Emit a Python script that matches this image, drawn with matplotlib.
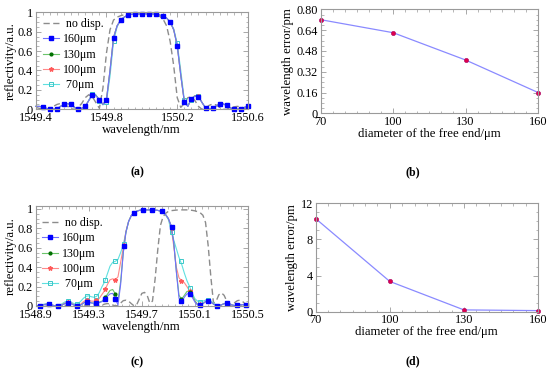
import numpy as np
import matplotlib
matplotlib.use('Agg')
import matplotlib.pyplot as plt
from matplotlib.ticker import AutoMinorLocator
from matplotlib.lines import Line2D

plt.rcParams['font.family'] = ['Liberation Serif', 'DejaVu Serif']

# ---------------- data: panel (a) ----------------
wl_a_start, wl_a_stop, wl_a_step = 1549.40, 1550.60, 0.02
r_nd_a = [0.02, 0.01, 0.0, 0.0, 0.01, 0.03, 0.05, 0.06, 0.055, 0.03,
          0.005, 0.0, 0.02, 0.06, 0.12, 0.15, 0.13, 0.07, 0.01, 0.22,
          0.58, 0.82, 0.92, 0.95, 0.965, 0.975, 0.98, 0.98, 0.98, 0.98,
          0.98, 0.98, 0.98, 0.978, 0.975, 0.96, 0.93, 0.86, 0.70, 0.45,
          0.12, 0.02, 0.06, 0.12, 0.13, 0.09, 0.03, 0.0, 0.01, 0.04,
          0.055, 0.045, 0.02, 0.0, 0.0, 0.01, 0.025, 0.03, 0.025, 0.01,
          0.005]
r160_a = [0.03, 0.03, 0.024, 0.01, 0.0, 0.0, 0.005, 0.03, 0.05, 0.058,
          0.05, 0.02, 0.0, 0.01, 0.03, 0.09, 0.145, 0.14, 0.10, 0.05,
          0.10, 0.40, 0.74, 0.86, 0.92, 0.95, 0.97, 0.978, 0.98, 0.985,
          0.985, 0.985, 0.985, 0.983, 0.98, 0.972, 0.96, 0.94, 0.90, 0.82,
          0.656, 0.35, 0.08, 0.03, 0.11, 0.135, 0.13, 0.07, 0.015, 0.0,
          0.01, 0.035, 0.055, 0.055, 0.04, 0.015, 0.0, 0.0, 0.005, 0.02,
          0.03]
r130_a = [0.03, 0.03, 0.024, 0.01, 0.0, 0.0, 0.005, 0.03, 0.05, 0.058,
          0.05, 0.02, 0.0, 0.01, 0.03, 0.09, 0.15, 0.145, 0.10, 0.05,
          0.10, 0.40, 0.74, 0.86, 0.92, 0.95, 0.97, 0.978, 0.98, 0.985,
          0.985, 0.985, 0.985, 0.983, 0.98, 0.972, 0.96, 0.94, 0.90, 0.82,
          0.656, 0.35, 0.08, 0.03, 0.11, 0.14, 0.13, 0.07, 0.015, 0.0,
          0.01, 0.035, 0.055, 0.055, 0.04, 0.015, 0.0, 0.0, 0.005, 0.02,
          0.03]
r100_a = [0.03, 0.03, 0.024, 0.01, 0.0, 0.0, 0.005, 0.03, 0.05, 0.058,
          0.05, 0.02, 0.0, 0.01, 0.03, 0.09, 0.15, 0.145, 0.095, 0.05,
          0.10, 0.40, 0.74, 0.86, 0.92, 0.95, 0.97, 0.978, 0.98, 0.985,
          0.985, 0.985, 0.985, 0.983, 0.98, 0.972, 0.96, 0.94, 0.90, 0.82,
          0.656, 0.35, 0.08, 0.03, 0.11, 0.14, 0.135, 0.07, 0.015, 0.0,
          0.01, 0.035, 0.055, 0.055, 0.04, 0.015, 0.0, 0.0, 0.005, 0.02,
          0.03]
r70_a = [0.03, 0.03, 0.024, 0.01, 0.0, 0.0, 0.005, 0.03, 0.05, 0.058,
         0.05, 0.02, 0.0, 0.01, 0.03, 0.095, 0.16, 0.15, 0.09, 0.045,
         0.08, 0.34, 0.70, 0.85, 0.92, 0.95, 0.97, 0.978, 0.98, 0.985,
         0.985, 0.985, 0.985, 0.983, 0.98, 0.972, 0.96, 0.94, 0.90, 0.83,
         0.68, 0.40, 0.10, 0.04, 0.10, 0.14, 0.135, 0.07, 0.015, 0.0,
         0.01, 0.035, 0.055, 0.055, 0.04, 0.015, 0.0, 0.0, 0.005, 0.02,
         0.03]

# ---------------- data: panel (c) ----------------
wl_c_start, wl_c_stop, wl_c_step = 1548.90, 1550.50, 0.02
r_nd_c = [0.0, 0.004, 0.006, 0.004, 0.0, 0.002, 0.006, 0.008, 0.005, 0.001,
          0.001, 0.006, 0.01, 0.008, 0.002, 0.001, 0.007, 0.013, 0.012, 0.005,
          0.001, 0.006, 0.012, 0.008, 0.002, 0.01, 0.02, 0.025, 0.02, 0.01,
          0.002, 0.005, 0.03, 0.055, 0.06, 0.05, 0.025, 0.003, 0.01, 0.07,
          0.13, 0.14, 0.11, 0.03, 0.05, 0.28, 0.58, 0.83, 0.92, 0.955,
          0.975, 0.982, 0.985, 0.988, 0.99, 0.99, 0.99, 0.99, 0.988, 0.985,
          0.98, 0.972, 0.96, 0.935, 0.86, 0.62, 0.30, 0.03, 0.05, 0.115,
          0.135, 0.11, 0.05, 0.005, 0.01, 0.035, 0.055, 0.06, 0.045, 0.02,
          0.003]
r160_c = [0.005, 0.0, 0.005, 0.012, 0.017, 0.017, 0.01, 0.003, 0.0, 0.002,
          0.012, 0.025, 0.033, 0.03, 0.015, 0.003, 0.0, 0.01, 0.03, 0.042,
          0.04, 0.03, 0.027, 0.03, 0.035, 0.045, 0.065, 0.10, 0.125, 0.13,
          0.08, 0.01, 0.22, 0.55, 0.76, 0.87, 0.93, 0.96, 0.975, 0.985,
          0.99, 0.99, 0.99, 0.99, 0.99, 0.988, 0.985, 0.978, 0.965, 0.94,
          0.90, 0.83, 0.66, 0.35, 0.08, 0.04, 0.09, 0.125, 0.125, 0.09,
          0.04, 0.01, 0.008, 0.025, 0.045, 0.05, 0.04, 0.02, 0.005, 0.002,
          0.012, 0.024, 0.028, 0.022, 0.01, 0.004, 0.006, 0.012, 0.014, 0.01,
          0.006]
r130_c = [0.005, 0.0, 0.005, 0.012, 0.017, 0.017, 0.01, 0.003, 0.0, 0.002,
          0.012, 0.025, 0.034, 0.031, 0.015, 0.003, 0.0, 0.01, 0.03, 0.045,
          0.044, 0.033, 0.03, 0.034, 0.04, 0.05, 0.08, 0.12, 0.16, 0.17,
          0.125, 0.05, 0.25, 0.55, 0.76, 0.87, 0.93, 0.96, 0.975, 0.985,
          0.99, 0.99, 0.99, 0.99, 0.99, 0.988, 0.985, 0.978, 0.965, 0.94,
          0.90, 0.83, 0.66, 0.36, 0.11, 0.07, 0.11, 0.15, 0.155, 0.115,
          0.055, 0.015, 0.008, 0.025, 0.045, 0.05, 0.04, 0.02, 0.005, 0.002,
          0.012, 0.024, 0.028, 0.022, 0.01, 0.004, 0.006, 0.012, 0.014, 0.01,
          0.006]
r100_c = [0.005, 0.0, 0.006, 0.014, 0.02, 0.02, 0.012, 0.004, 0.0, 0.004,
          0.016, 0.03, 0.04, 0.035, 0.02, 0.005, 0.005, 0.02, 0.045, 0.06,
          0.06, 0.05, 0.05, 0.06, 0.08, 0.12, 0.16, 0.22, 0.27, 0.28,
          0.27, 0.30, 0.45, 0.60, 0.77, 0.87, 0.93, 0.96, 0.975, 0.985,
          0.99, 0.99, 0.99, 0.99, 0.99, 0.988, 0.985, 0.978, 0.965, 0.94,
          0.90, 0.82, 0.62, 0.40, 0.29, 0.26, 0.24, 0.20, 0.155, 0.10,
          0.05, 0.02, 0.012, 0.025, 0.045, 0.05, 0.04, 0.022, 0.006, 0.002,
          0.012, 0.024, 0.028, 0.022, 0.01, 0.004, 0.006, 0.012, 0.014, 0.01,
          0.006]
r70_c = [0.005, 0.0, 0.008, 0.018, 0.025, 0.022, 0.012, 0.004, 0.002, 0.01,
         0.025, 0.042, 0.05, 0.045, 0.03, 0.018, 0.025, 0.05, 0.08, 0.10,
         0.105, 0.095, 0.09, 0.10, 0.14, 0.20, 0.25, 0.33, 0.41, 0.45,
         0.46, 0.48, 0.55, 0.63, 0.76, 0.87, 0.93, 0.96, 0.975, 0.985,
         0.99, 0.99, 0.99, 0.99, 0.99, 0.988, 0.985, 0.975, 0.96, 0.935,
         0.89, 0.78, 0.68, 0.59, 0.50, 0.43, 0.34, 0.26, 0.20, 0.13,
         0.075, 0.05, 0.045, 0.05, 0.06, 0.06, 0.05, 0.03, 0.012, 0.005,
         0.012, 0.025, 0.03, 0.025, 0.012, 0.005, 0.006, 0.012, 0.014, 0.01,
         0.006]
# marker samples (c)
mk_wl_c = [1548.93, 1549.00, 1549.07, 1549.145, 1549.215, 1549.285, 1549.355,
           1549.425, 1549.50, 1549.565, 1549.64, 1549.705, 1549.78, 1549.85,
           1549.925, 1549.995, 1550.065, 1550.135, 1550.20, 1550.27, 1550.345,
           1550.415, 1550.485]
mk160_c = [0.0, 0.017, 0.0, 0.034, 0.0, 0.04, 0.03, 0.07, 0.07, 0.62, 0.96, 0.99,
           0.99, 0.975, 0.81, 0.05, 0.12, 0.01, 0.05, 0.0, 0.028, 0.01, 0.01]
mk130_c = [0.0, 0.018, 0.0, 0.035, 0.002, 0.045, 0.035, 0.09, 0.12, 0.62, 0.96, 0.99,
           0.99, 0.975, 0.81, 0.07, 0.14, 0.012, 0.05, 0.0, 0.028, 0.01, 0.01]
mk100_c = [0.0, 0.02, 0.0, 0.04, 0.005, 0.06, 0.06, 0.17, 0.27, 0.63, 0.96, 0.99,
           0.99, 0.975, 0.80, 0.26, 0.15, 0.02, 0.05, 0.0, 0.028, 0.01, 0.01]
mk70_c = [0.0, 0.02, 0.0, 0.05, 0.02, 0.10, 0.10, 0.27, 0.46, 0.64, 0.96, 0.99,
          0.99, 0.975, 0.76, 0.46, 0.19, 0.045, 0.06, 0.005, 0.03, 0.01, 0.01]

# ---------------- data: panels (b), (d) ----------------
diam = [70, 100, 130, 160]
err_b = [0.72, 0.62, 0.41, 0.16]
err_d = [10.3, 3.35, 0.2, 0.12]

labels = [' no disp.', '160\u03bcm', '130\u03bcm', '100\u03bcm', ' 70\u03bcm']
xt_a = [1549.4, 1549.8, 1550.2, 1550.6]
xtl_a = ['1549.4', '1549.8', '1550.2', '1550.6']
xt_c = [1548.9, 1549.3, 1549.7, 1550.1, 1550.5]
xtl_c = ['1548.9', '1549.3', '1549.7', '1550.1', '1550.5']
yt_r = [0, 0.2, 0.4, 0.6, 0.8, 1.0]
ytl_r = ['0', '0.2', '0.4', '0.6', '0.8', '1']
yt_b = [0, 0.16, 0.32, 0.48, 0.64, 0.80]
ytl_b = ['0', '0.16', '0.32', '0.48', '0.64', '0.80']
yt_d = [0, 4, 8, 12]
ytl_d = ['0', '4', '8', '12']
xt_bd = [70, 100, 130, 160]

# ---------------- styles ----------------
FRAME = '#9a9a9a'
ND = dict(color='#8c8c8c', lw=1.0, dashes=(4.5, 2.5))
ST = {
    '160': dict(color='#7070ff', marker='s', ms=2.7, mfc='#0000ff', mec='#0000ff', lw=0.8),
    '130': dict(color='#6cc46c', marker='o', ms=2.0, mfc='#007000', mec='#007000', lw=0.8),
    '100': dict(color='#ff8a8a', marker='*', ms=3.2, mfc='#ff5a5a', mec='#ff5a5a', lw=0.8),
    '70': dict(color='#5fe0e0', marker='s', ms=2.6, mfc='none', mec='#3cc8c8', mew=0.7, lw=0.8),
}

W, H = 550, 379
fig = plt.figure(figsize=(5.5, 3.79), dpi=100)


def add_ax(l, r, t, b):
    return fig.add_axes([l / W, 1 - b / H, (r - l) / W, (b - t) / H])


def style(ax, nxminor, nyminor):
    for s in ax.spines.values():
        s.set_color(FRAME)
        s.set_linewidth(0.8)
    ax.tick_params(which='both', direction='in', top=True, right=True,
                   color=FRAME, labelsize=8.8, pad=2)
    ax.tick_params(which='major', length=3.5, width=0.6)
    ax.tick_params(which='minor', length=1.8, width=0.5)
    ax.xaxis.set_minor_locator(AutoMinorLocator(nxminor))
    ax.yaxis.set_minor_locator(AutoMinorLocator(nyminor))


def legend(ax, x, y):
    hs = [Line2D([], [], **ND)]
    for k in ['160', '130', '100', '70']:
        hs.append(Line2D([], [], **ST[k]))
    ax.legend(hs, labels, loc='upper left', bbox_to_anchor=(x, y), frameon=False,
              fontsize=8.6, handlelength=1.35, handletextpad=0.35, labelspacing=0.28,
              borderpad=0, borderaxespad=0, numpoints=1)


# ---- (a)
axa = add_ax(35.7, 248, 12.3, 109.3)
wl_a = np.round(np.arange(wl_a_start, wl_a_stop + wl_a_step / 2, wl_a_step), 3)
axa.plot(wl_a, r_nd_a, **ND)
me = slice(2, None, 2)
for k, r in [('70', r70_a), ('100', r100_a), ('130', r130_a), ('160', r160_a)]:
    axa.plot(wl_a, r, markevery=me, clip_on=False, **ST[k])
axa.set_xlim(1549.4, 1550.6)
axa.set_ylim(0, 1.0)
axa.set_xticks(xt_a, xtl_a)
axa.set_yticks(yt_r, ytl_r)
style(axa, 10, 4)
axa.set_xlabel('wavelength/nm', fontsize=9.2, labelpad=0)
axa.set_ylabel('reflectivity/a.u.', fontsize=9.2, labelpad=1)
legend(axa, 0.034, 0.94)

# ---- (c)
axc = add_ax(35.7, 248, 206, 306)
wl_c = np.round(np.arange(wl_c_start, wl_c_stop + wl_c_step / 2, wl_c_step), 3)
axc.plot(wl_c, r_nd_c, **ND)
for k, r in [('70', r70_c), ('100', r100_c), ('130', r130_c), ('160', r160_c)]:
    st = dict(ST[k])
    axc.plot(wl_c, r, color=st['color'], lw=st['lw'])
for k, m in [('70', mk70_c), ('100', mk100_c), ('130', mk130_c), ('160', mk160_c)]:
    st = dict(ST[k])
    st.pop('lw')
    st.pop('color')
    axc.plot(mk_wl_c, m, ls='none', clip_on=False, **st)
axc.set_xlim(1548.9, 1550.5)
axc.set_ylim(0, 1.03)
axc.set_xticks(xt_c, xtl_c)
axc.set_yticks(yt_r, ytl_r)
style(axc, 8, 4)
axc.set_xlabel('wavelength/nm', fontsize=9.2, labelpad=0)
axc.set_ylabel('reflectivity/a.u.', fontsize=9.2, labelpad=1)
legend(axc, 0.028, 0.89)

# ---- (b)
axb = add_ax(320.7, 538, 9.3, 113.3)
axb.plot(diam, err_b, color='#8a8aff', lw=0.9, marker='o', ms=3.0,
         mfc='#e0004a', mec='#b0106a', mew=0.5, clip_on=False)
axb.set_xlim(70, 160)
axb.set_ylim(0, 0.8)
axb.set_xticks(xt_bd, [str(v) for v in xt_bd])
axb.set_yticks(yt_b, ytl_b)
style(axb, 6, 4)
axb.set_xlabel('diameter of the free end/\u03bcm', fontsize=9.2, labelpad=0)
axb.set_ylabel('wavelength error/pm', fontsize=9.2, labelpad=2)

# ---- (d)
axd = add_ax(315.7, 538, 203.3, 311.7)
axd.plot(diam, err_d, color='#8a8aff', lw=0.9, marker='o', ms=3.0,
         mfc='#e0004a', mec='#b0106a', mew=0.5, clip_on=False)
axd.set_xlim(70, 160)
axd.set_ylim(0, 12)
axd.set_xticks(xt_bd, [str(v) for v in xt_bd])
axd.set_yticks(yt_d, ytl_d)
style(axd, 6, 4)
axd.set_xlabel('diameter of the free end/\u03bcm', fontsize=9.2, labelpad=0)
axd.set_ylabel('wavelength error/pm', fontsize=9.2, labelpad=2)

# captions
for txt, x, y in [('(a)', 137, 172), ('(b)', 413, 172), ('(c)', 137, 362), ('(d)', 413, 361)]:
    fig.text(x / W, 1 - y / H, txt, ha='center', va='center', fontsize=8.5, fontweight='bold')

fig.savefig('out.png', dpi=100)
